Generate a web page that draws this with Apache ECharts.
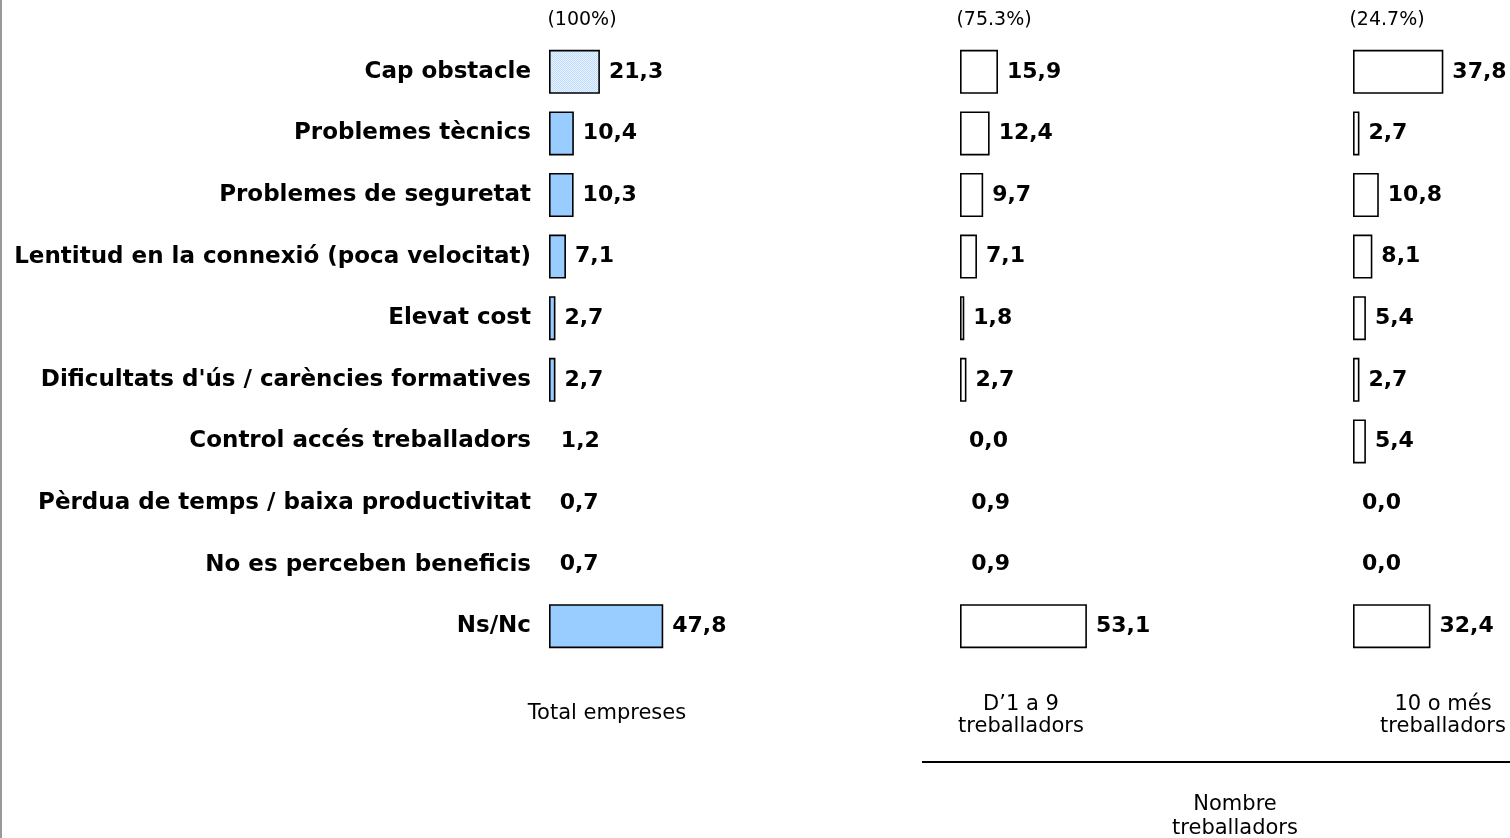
<!DOCTYPE html>
<html><head><meta charset="utf-8">
<script src="https://cdn.jsdelivr.net/npm/echarts@6/dist/echarts.min.js"></script>
<style>html,body{margin:0;padding:0;background:#fff}#c{width:1510px;height:838px}</style>
</head><body><div id="c"></div>
<script>
const categories = ["Cap obstacle","Problemes tècnics","Problemes de seguretat","Lentitud en la connexió (poca velocitat)","Elevat cost","Dificultats d'ús / carències formatives","Control accés treballadors","Pèrdua de temps / baixa productivitat","No es perceben beneficis","Ns/Nc"];
const totalValues = [21.3,10.4,10.3,7.1,2.7,2.7,1.2,0.7,0.7,47.8];
const smallValues = [15.9,12.4,9.7,7.1,1.8,2.7,0.0,0.9,0.9,53.1];
const largeValues = [37.8,2.7,10.8,8.1,5.4,2.7,5.4,0.0,0.0,32.4];
const headerLabels = ["(100%)","(75.3%)","(24.7%)"];
const footerLabels = ["Total empreses","D’1 a 9\ntreballadors","10 o més\ntreballadors"];
const groupLabel = "Nombre\ntreballadors";

(function () {
const FONT = "DejaVu Sans, Verdana, sans-serif";
const chart = echarts.init(document.getElementById('c'));

const pc = document.createElement('canvas');
pc.width = 2; pc.height = 2;
const pctx = pc.getContext('2d');
pctx.fillStyle = '#eaf3fe'; pctx.fillRect(0,0,2,2);
pctx.fillStyle = '#bcdafb'; pctx.fillRect(0,0,1,1); pctx.fillRect(1,1,1,1);

const lefts = [549, 960, 1353];
const gTop = 41, gHeight = 616, W = 143.4, MAX = 60;

function mkData(vals, firstPattern) {
  return vals.map((v, i) => {
    const item = {value: v};
    if (v < 1.5) {
      item.itemStyle = {color: 'rgba(0,0,0,0)', borderWidth: 0};
    } else if (firstPattern && i === 0) {
      item.itemStyle = {color: {image: pc, repeat: 'repeat'}};
    }
    return item;
  });
}

const grids = lefts.map(l => ({left: l, top: gTop, width: W, height: gHeight, containLabel: false}));
const xAxes = lefts.map((l, i) => ({gridIndex: i, type: 'value', min: 0, max: MAX, show: false}));
const yAxes = lefts.map((l, i) => ({
  gridIndex: i, type: 'category', data: categories, inverse: true,
  axisLine: {show: false}, axisTick: {show: false}, splitLine: {show: false},
  axisLabel: i === 0 ? {show: true, margin: 18, color: '#000', fontWeight: 'bold', fontSize: 23, fontFamily: FONT} : {show: false}
}));

const allVals = [totalValues, smallValues, largeValues];
const fills = ['#99ccff', '#ffffff', '#ffffff'];
const series = allVals.map((vals, i) => ({
  type: 'bar', xAxisIndex: i, yAxisIndex: i, barWidth: 44,
  data: mkData(vals, i === 0),
  itemStyle: {color: fills[i], borderColor: '#000', borderWidth: 1.6},
  label: {show: true, position: 'right', distance: 9, color: '#000', fontWeight: 'bold', fontSize: 22, fontFamily: FONT,
    formatter: p => p.value.toFixed(1).replace('.', ',')},
  silent: true, animation: false
}));

const headerX = [582, 994, 1387];
const footerX = [607, 1021, 1443];
const graphic = [
  {type: 'rect', shape: {x: 0, y: 0, width: 2, height: 838}, style: {fill: '#999'}},
  {type: 'line', shape: {x1: 922, y1: 762, x2: 1510, y2: 762}, style: {stroke: '#000', lineWidth: 2}}
];
headerLabels.forEach((t, i) => graphic.push({type: 'text', x: headerX[i], y: 20, style: {text: t, align: 'center', verticalAlign: 'middle', font: '19px ' + FONT, fill: '#000'}}));
footerLabels.forEach((t, i) => graphic.push({type: 'text', x: footerX[i], y: i === 0 ? 714 : 716, style: {text: t, align: 'center', verticalAlign: 'middle', font: '21px ' + FONT, lineHeight: 22, fill: '#000'}}));
graphic.push({type: 'text', x: 1235, y: 817, style: {text: groupLabel, align: 'center', verticalAlign: 'middle', font: '21px ' + FONT, lineHeight: 24, fill: '#000'}});

chart.setOption({
  animation: false,
  grid: grids, xAxis: xAxes, yAxis: yAxes, series: series, graphic: graphic
});
})();
</script></body></html>
